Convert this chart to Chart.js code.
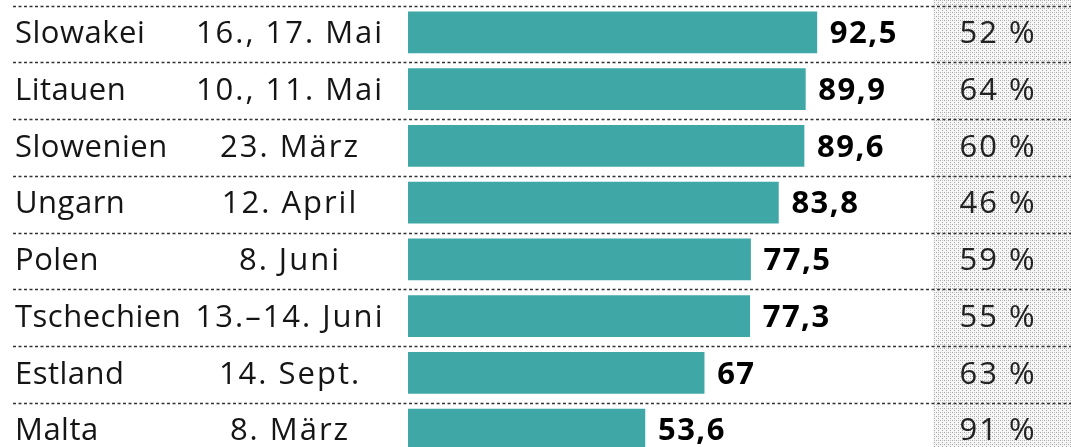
<!DOCTYPE html>
<html>
<head>
<meta charset="utf-8">
<script src="https://cdn.jsdelivr.net/npm/chart.js@4/dist/chart.umd.min.js"></script>
<style>
  html, body { margin: 0; padding: 0; background: #fff; overflow: hidden; }
  #wrap { width: 1071px; height: 462px; }
</style>
</head>
<body>
<div id="wrap"><canvas id="c" width="1071" height="462"></canvas></div>
<script>
const countries = ["Slowakei", "Litauen", "Slowenien", "Ungarn", "Polen", "Tschechien", "Estland", "Malta"];
const dates = ["16., 17. Mai", "10., 11. Mai", "23. März", "12. April", "8. Juni", "13.–14. Juni", "14. Sept.", "8. März"];
const yesShare = [92.5, 89.9, 89.6, 83.8, 77.5, 77.3, 67, 53.6];
const turnout = [52, 64, 60, 46, 59, 55, 63, 91];

const FONT = '"Open Sans", "Noto Sans", sans-serif';

function makeStipple(ctx) {
  const t = document.createElement('canvas');
  t.width = 4; t.height = 4;
  const g = t.getContext('2d');
  g.fillStyle = '#f6f6f6';
  g.fillRect(0, 0, 4, 4);
  g.fillStyle = '#a8a8a8';
  g.fillRect(0, 0, 1, 1);
  g.fillRect(2, 2, 1, 1);
  g.fillStyle = '#c4c4c4';
  g.fillRect(2, 0, 1, 1);
  return ctx.createPattern(t, 'repeat');
}

function setSpacing(ctx, px) {
  if ('letterSpacing' in ctx) ctx.letterSpacing = px + 'px';
}

const tablePlugin = {
  id: 'table',
  beforeDatasetsDraw(chart) {
    const ctx = chart.ctx;
    const y = chart.scales.y;
    const n = countries.length;
    const rowH = (y.getPixelForValue(1) - y.getPixelForValue(0));
    ctx.save();
    ctx.fillStyle = makeStipple(ctx);
    ctx.fillRect(933, 0, 1071 - 933, chart.height);
    ctx.strokeStyle = '#333';
    ctx.lineWidth = 1.6;
    ctx.setLineDash([3, 2.5]);
    for (let i = 0; i <= n; i++) {
      const py = Math.round(y.getPixelForValue(i) - rowH / 2 + 1.5) + 0.5;
      ctx.beginPath();
      ctx.moveTo(13, py);
      ctx.lineTo(1071, py);
      ctx.stroke();
    }
    ctx.setLineDash([]);
    ctx.restore();
  },
  afterDatasetsDraw(chart) {
    const ctx = chart.ctx;
    const y = chart.scales.y;
    const meta = chart.getDatasetMeta(0);
    ctx.save();
    ctx.textBaseline = 'middle';
    countries.forEach((c, i) => {
      const py = y.getPixelForValue(i) + 2;
      ctx.fillStyle = '#151515';
      ctx.font = '31px ' + FONT;
      setSpacing(ctx, 0.5);
      ctx.textAlign = 'left';
      ctx.fillText(c, 15, py);
      setSpacing(ctx, 2);
      ctx.textAlign = 'center';
      ctx.fillText(dates[i], 290, py);
      const bar = meta.data[i];
      ctx.font = 'bold 31px ' + FONT;
      setSpacing(ctx, 1.5);
      ctx.textAlign = 'left';
      ctx.fillStyle = '#000';
      ctx.fillText(String(yesShare[i]).replace('.', ','), bar.x + 13, py);
      ctx.font = '31px ' + FONT;
      setSpacing(ctx, 2);
      ctx.textAlign = 'center';
      ctx.fillStyle = '#222';
      ctx.fillText(turnout[i] + ' %', 998, py);
    });
    setSpacing(ctx, 0);
    ctx.restore();
  }
};

new Chart(document.getElementById('c'), {
  type: 'bar',
  data: {
    labels: countries,
    datasets: [{
      data: yesShare,
      backgroundColor: '#3fa7a6',
      borderWidth: 0,
      barThickness: 41
    }]
  },
  options: {
    indexAxis: 'y',
    responsive: false,
    animation: false,
    events: [],
    layout: { padding: { left: 408, right: 221, top: 4, bottom: 4 } },
    plugins: { legend: { display: false }, tooltip: { enabled: false } },
    scales: {
      x: { display: false, min: 0, max: 100 },
      y: { display: false, offset: true }
    }
  },
  plugins: [tablePlugin]
});
</script>
</body>
</html>
